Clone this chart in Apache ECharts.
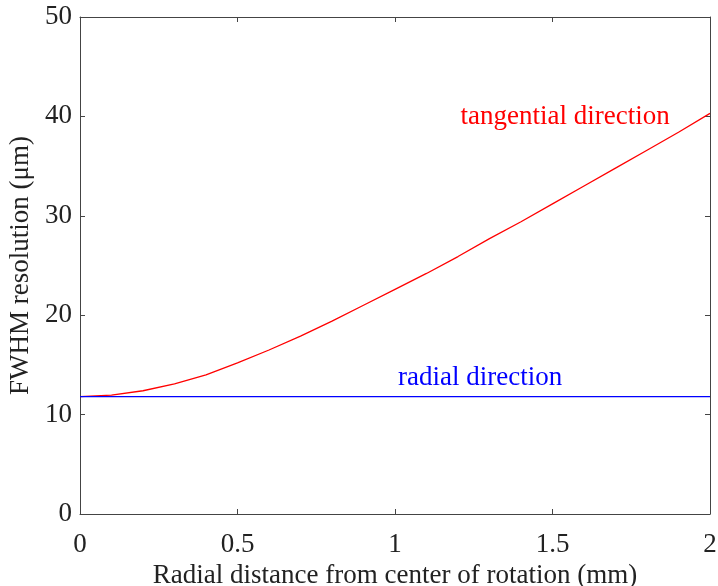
<!DOCTYPE html>
<html><head><meta charset="utf-8">
<script src="https://cdn.jsdelivr.net/npm/echarts@6/dist/echarts.min.js"></script>
<style>html,body{margin:0;padding:0;background:#fff}#c{width:718px;height:586px}</style>
</head><body><div id="c"></div>
<script>
const xValues = [0,0.1,0.2,0.3,0.4,0.5,0.6,0.7,0.8,0.9,1.0,1.1,1.2,1.3,1.4,1.5,1.6,1.7,1.8,1.9,2.0];
const tangential = [11.8,11.95,12.4,13.1,14.0,15.2,16.5,17.9,19.4,21.0,22.6,24.2,25.9,27.7,29.4,31.2,33.0,34.8,36.6,38.4,40.3];
const radial = [11.8,11.8,11.8,11.8,11.8,11.8,11.8,11.8,11.8,11.8,11.8,11.8,11.8,11.8,11.8,11.8,11.8,11.8,11.8,11.8,11.8];
const xTitle = 'Radial distance from center of rotation (mm)';
const yTitle = 'FWHM resolution (μm)';
const tanLabel = {text:'tangential direction', x:1.54, y:39.9};
const radLabel = {text:'radial direction', x:1.27, y:13.7};

const font = '"Liberation Serif","DejaVu Serif",serif';
const axisCol = '#444';
const chart = echarts.init(document.getElementById('c'));
const mirror = (type, pos) => ({
  type:'value', position:pos, min:0, max: type==='x'?2:50, interval: type==='x'?0.5:10,
  axisLine:{show:true, onZero:false, lineStyle:{color:axisCol, width:1}},
  axisTick:{show:true, inside:true, length:5, lineStyle:{color:axisCol}},
  axisLabel:{show:false}, splitLine:{show:false}
});
chart.setOption({
  animation:false,
  grid:{left:80, right:8, top:17, bottom:72, outerBoundsMode:'none', containLabel:false},
  xAxis:[{
    type:'value', min:0, max:2, interval:0.5, position:'bottom',
    name:xTitle, nameLocation:'middle', nameGap:39,
    nameTextStyle:{fontFamily:font, fontSize:27, color:'#222'},
    axisLine:{show:true, onZero:false, lineStyle:{color:axisCol, width:1}},
    axisTick:{show:true, inside:true, length:5, lineStyle:{color:axisCol}},
    axisLabel:{fontFamily:font, fontSize:27, color:'#222', margin:17},
    splitLine:{show:false}
  }, mirror('x','top')],
  yAxis:[{
    type:'value', min:0, max:50, interval:10, position:'left',
    name:yTitle, nameLocation:'middle', nameGap:35,
    nameTextStyle:{fontFamily:font, fontSize:27, color:'#222'},
    axisLine:{show:true, onZero:false, lineStyle:{color:axisCol, width:1}},
    axisTick:{show:true, inside:true, length:5, lineStyle:{color:axisCol}},
    axisLabel:{fontFamily:font, fontSize:27, color:'#222', margin:8},
    splitLine:{show:false}
  }, mirror('y','right')],
  series:[
    {type:'line', data:xValues.map((x,i)=>[x,tangential[i]]), smooth:false, showSymbol:false,
     lineStyle:{color:'#ff0000', width:1.3},
     markPoint:{symbol:'circle', symbolSize:0, data:[{coord:[tanLabel.x,tanLabel.y]}],
       label:{show:true, formatter:tanLabel.text, color:'#ff0000', fontFamily:font, fontSize:27, position:'inside'}}},
    {type:'line', data:xValues.map((x,i)=>[x,radial[i]]), showSymbol:false,
     lineStyle:{color:'#0000ff', width:1.3},
     markPoint:{symbol:'circle', symbolSize:0, data:[{coord:[radLabel.x,radLabel.y]}],
       label:{show:true, formatter:radLabel.text, color:'#0000ff', fontFamily:font, fontSize:27, position:'inside'}}}
  ]
});
</script></body></html>
